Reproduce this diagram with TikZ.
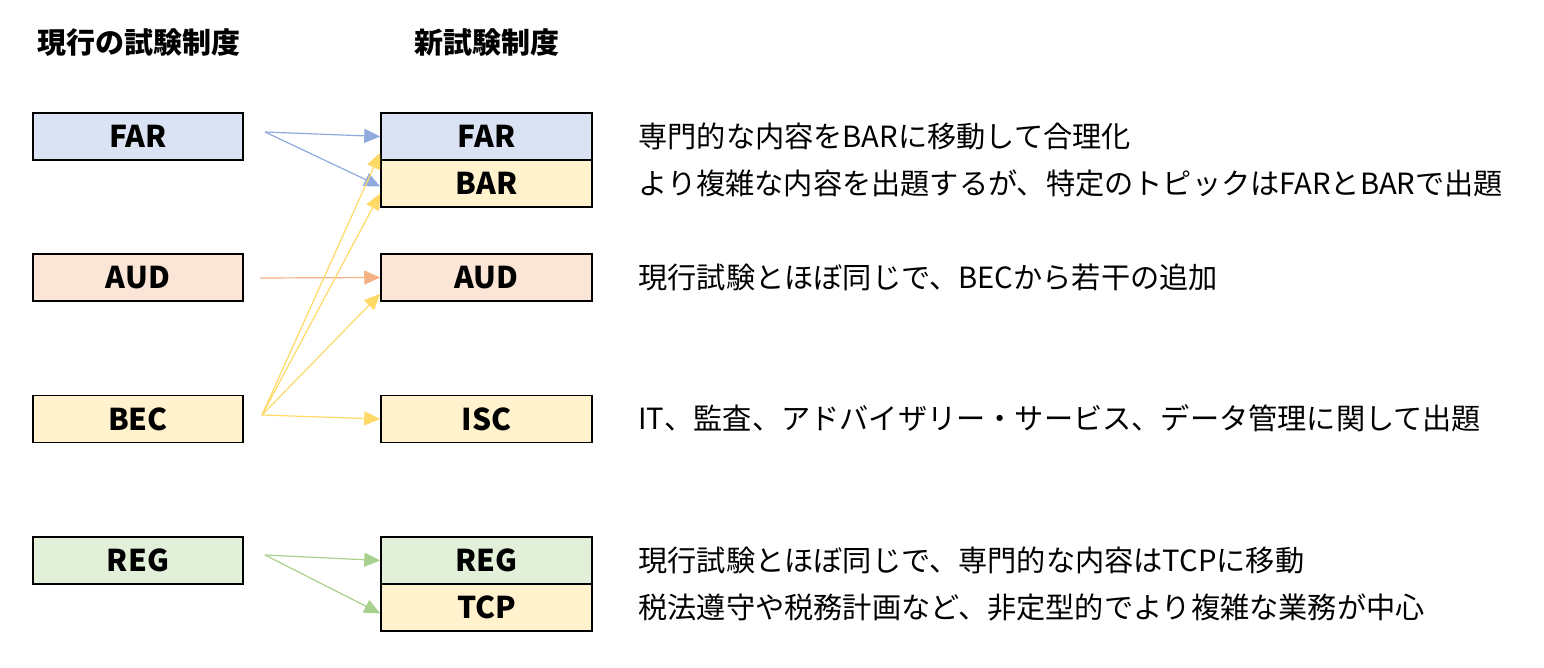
\documentclass[tikz,border=0pt]{standalone}
\usepackage{fontspec}
\newfontfamily\jp{Noto Sans CJK JP}
\usetikzlibrary{arrows.meta}
\definecolor{bluefill}{HTML}{DAE3F3}
\definecolor{bluearr}{HTML}{8FAADC}
\definecolor{orgfill}{HTML}{FBE5D6}
\definecolor{orgarr}{HTML}{F4B183}
\definecolor{yelfill}{HTML}{FFF2CC}
\definecolor{yelarr}{HTML}{FFD966}
\definecolor{grnfill}{HTML}{E2F0D9}
\definecolor{grnarr}{HTML}{A9D18E}
\begin{document}
\begin{tikzpicture}[x=0.5pt,y=-0.5pt,
  examleft/.style={draw=black,line width=0.75pt,minimum width=105pt,minimum height=23.5pt,inner sep=0pt,font=\jp\bfseries\fontsize{15}{17}\selectfont},
  examright/.style={examleft,minimum width=105.5pt},
  header/.style={font=\jp\bfseries\fontsize{14.5}{17}\selectfont,inner sep=0pt},
  desc/.style={anchor=west,inner sep=0pt,font=\jp\fontsize{14.6}{17}\selectfont},
  conn/.style={line width=0.6pt,-{Triangle[length=8pt,width=7pt]}}
]
\useasboundingbox (0,0) rectangle (1544,668);
\fill[white] (0,0) rectangle (1544,668);

% headers
\node[header] (hcur) at (139,43) {現行の試験制度};
\node[header] (hnew) at (487,43) {新試験制度};

% left boxes
\node[examleft,fill=bluefill] (oFAR) at (138,136.5) {FAR};
\node[examleft,fill=orgfill] (oAUD) at (138,277.5) {AUD};
\node[examleft,fill=yelfill] (oBEC) at (138,419) {BEC};
\node[examleft,fill=grnfill] (oREG) at (138,560.5) {REG};

% right boxes
\node[examright,fill=bluefill] (nFAR) at (486.5,136.5) {FAR};
\node[examright,fill=yelfill] (nBAR) at (486.5,183.5) {BAR};
\node[examright,fill=orgfill] (nAUD) at (486.5,277.5) {AUD};
\node[examright,fill=yelfill] (nISC) at (486.5,419) {ISC};
\node[examright,fill=grnfill] (nREG) at (486.5,560.5) {REG};
\node[examright,fill=yelfill] (nTCP) at (486.5,607.5) {TCP};

% start coordinates
\coordinate (sFAR) at (265,132);
\coordinate (sAUD) at (260,278);
\coordinate (sBEC) at (262,415);
\coordinate (sREG) at (265,555);

% connectors
\draw[conn,bluearr] (sFAR) -- (nFAR.west);
\draw[conn,bluearr] (sFAR) -- ([yshift=-1.5pt]nBAR.west);
\draw[conn,orgarr] (sAUD) -- (nAUD.west);
\draw[conn,yelarr] (sBEC) -- ([yshift=4pt]nFAR.south west);
\draw[conn,yelarr] (sBEC) -- ([yshift=-5pt]nBAR.west);
\draw[conn,yelarr] (sBEC) -- ([yshift=4pt]nAUD.south west);
\draw[conn,yelarr] (sBEC) -- (nISC.west);
\draw[conn,grnarr] (sREG) -- (nREG.west);
\draw[conn,grnarr] (sREG) -- ([yshift=-3pt]nTCP.west);

% descriptions
\node[desc] (dFAR) at (638,136) {専門的な内容をBARに移動して合理化};
\node[desc] (dBAR) at (638,183) {より複雑な内容を出題するが、特定のトピックはFARとBARで出題};
\node[desc] (dAUD) at (638,277) {現行試験とほぼ同じで、BECから若干の追加};
\node[desc] (dISC) at (638,418) {IT、監査、アドバイザリー・サービス、データ管理に関して出題};
\node[desc] (dREG) at (638,560) {現行試験とほぼ同じで、専門的な内容はTCPに移動};
\node[desc] (dTCP) at (638,607) {税法遵守や税務計画など、非定型的でより複雑な業務が中心};
\end{tikzpicture}
\end{document}
